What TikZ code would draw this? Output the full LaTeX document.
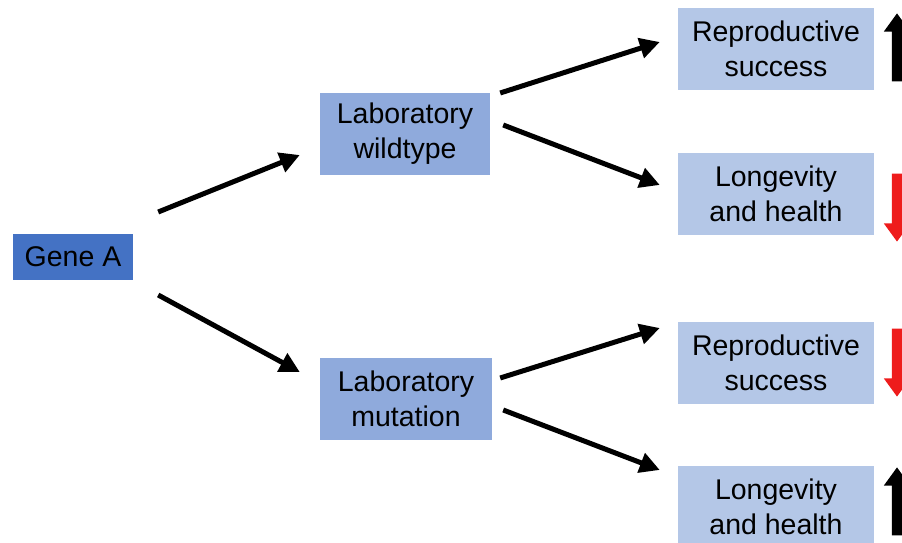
\documentclass[tikz,border=0pt]{standalone}
\usepackage{fontspec}
\setmainfont{Liberation Sans}
\usepackage{tikz}
\usetikzlibrary{arrows.meta,shapes.arrows}

\definecolor{genecol}{HTML}{4472C4}
\definecolor{labcol}{HTML}{8FAADC}
\definecolor{outcol}{HTML}{B4C7E7}
\definecolor{downred}{HTML}{EE1C1C}

\begin{document}
\begin{tikzpicture}[x=1pt,y=1pt,
        box/.style={rectangle,inner sep=0pt,align=center,
            font=\fontsize{28.5}{35}\selectfont},
        link/.style={-{Triangle[length=20pt,width=20pt]},line width=5pt},
        bigarrow/.style={single arrow,inner sep=5pt,minimum height=68pt,
            single arrow head extend=8pt,single arrow tip angle=72}]
        \useasboundingbox (0,0) rectangle (902,543);
        \node[box,fill=genecol,minimum width=120pt,minimum height=46pt] (gene) at (73,286) {Gene A};
        \node[box,fill=labcol,minimum width=170pt,minimum height=82pt] (wild) at (405,409) {Laboratory\\wildtype};
        \node[box,fill=labcol,minimum width=172pt,minimum height=82pt] (mut) at (406,144) {Laboratory\\mutation};
        \node[box,fill=outcol,minimum width=196pt,minimum height=82pt] (rs1) at (776,494) {Reproductive\\success};
        \node[box,fill=outcol,minimum width=196pt,minimum height=82pt] (lh1) at (776,349) {Longevity\\and health};
        \node[box,fill=outcol,minimum width=196pt,minimum height=82pt] (rs2) at (776,180) {Reproductive\\success};
        \node[box,fill=outcol,minimum width=196pt,minimum height=82pt] (lh2) at (776,36) {Longevity\\and health};
        \draw[link] ([xshift=25pt,yshift=45pt]gene.east) -- ([xshift=-20pt,yshift=-21pt]wild.west);
        \draw[link] ([xshift=25pt,yshift=-38pt]gene.east) -- ([xshift=-20pt,yshift=27pt]mut.west);
        \draw[link] ([xshift=10pt,yshift=41pt]wild.east) -- ([xshift=-18pt,yshift=7pt]rs1.west);
        \draw[link] ([xshift=13pt,yshift=9pt]wild.east) -- ([xshift=-18pt,yshift=9pt]lh1.west);
        \draw[link] ([xshift=8pt,yshift=21pt]mut.east) -- ([xshift=-18pt,yshift=35pt]rs2.west);
        \draw[link] ([xshift=11pt,yshift=-11pt]mut.east) -- ([xshift=-18pt,yshift=37pt]lh2.west);
        \node[bigarrow,fill=black,shape border rotate=90] (up1) at (897,492) {};
        \node[bigarrow,fill=downred,shape border rotate=270] (dn1) at (897,339) {};
        \node[bigarrow,fill=downred,shape border rotate=270] (dn2) at (897,184) {};
        \node[bigarrow,fill=black,shape border rotate=90] (up2) at (897,38) {};
\end{tikzpicture}
\end{document}
